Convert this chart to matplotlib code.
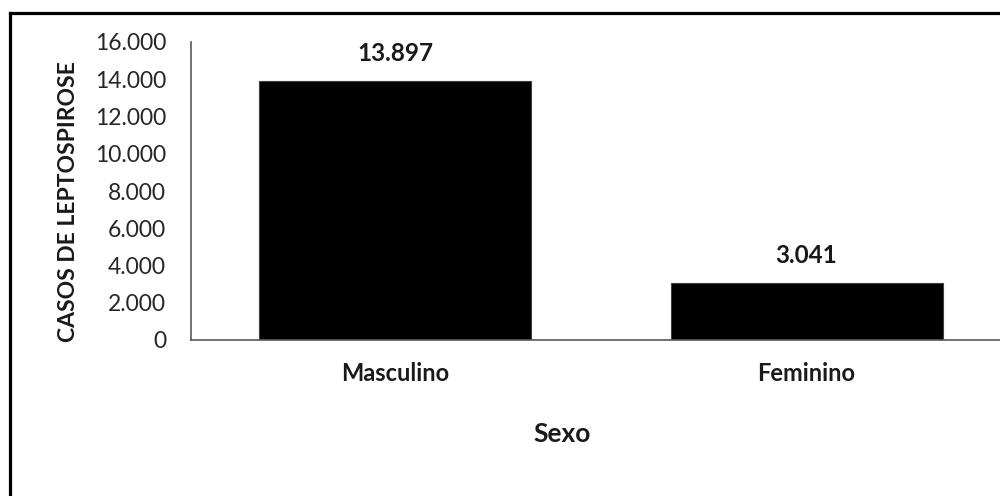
import matplotlib
matplotlib.use("Agg")
import matplotlib.pyplot as plt
from matplotlib.lines import Line2D

# Leptospirosis cases by sex
categories = ["Masculino", "Feminino"]
cases = [13897, 3041]
y_ticks = [0, 2000, 4000, 6000, 8000, 10000, 12000, 14000, 16000]


def fmt_thousands(v):
    return f"{v:,.0f}".replace(",", ".")


plt.rcParams["font.family"] = ["Lato", "DejaVu Sans"]

W, H = 1000, 496
fig = plt.figure(figsize=(W / 100, H / 100), dpi=100)
fig.patch.set_facecolor("white")

# plot area in pixel terms
left_px, right_px = 191, 1000
top_px, bottom_px = 42, 340
ax = fig.add_axes([left_px / W, 1 - bottom_px / H,
                   (right_px - left_px) / W, (bottom_px - top_px) / H])

x = list(range(len(categories)))
bars = ax.bar(x, cases, width=0.661, color="black", edgecolor="#404040", linewidth=0.8)

ax.set_xlim(-0.4957, 1.470)
ax.set_ylim(0, 16000)
ax.set_yticks(y_ticks)
ax.set_yticklabels([fmt_thousands(v) for v in y_ticks], fontsize=16.5, color="#262626")
ax.set_xticks(x)
ax.set_xticklabels(categories, fontsize=17, fontweight="bold", color="#1a1a1a")
ax.tick_params(axis="y", length=0, pad=18)
ax.tick_params(axis="x", length=0, pad=16)

for side in ("top", "right"):
    ax.spines[side].set_visible(False)
for side in ("left", "bottom"):
    ax.spines[side].set_color("#595959")
    ax.spines[side].set_linewidth(1.2)

ax.bar_label(bars, labels=[fmt_thousands(v) for v in cases], padding=12,
             fontsize=17.5, fontweight="bold", color="#1a1a1a")

ax.set_xlabel("Sexo", fontsize=19, fontweight="bold", color="#1a1a1a")
ax.xaxis.set_label_coords((562 - left_px) / (right_px - left_px),
                          (bottom_px - 434) / (bottom_px - top_px))
ax.xaxis.label.set_va("center")

ax.set_ylabel("CASOS DE LEPTOSPIROSE", fontsize=16.5, fontweight="bold", color="#1a1a1a")
ax.yaxis.set_label_coords((69 - left_px) / (right_px - left_px),
                          (bottom_px - 202) / (bottom_px - top_px))
ax.yaxis.label.set_va("center")

# outer chart border (left and top edges visible)
fx, fy = 10 / W, 1 - 13 / H
fig.add_artist(Line2D([fx, fx], [fy, -0.05], transform=fig.transFigure,
                      color="black", linewidth=2.3))
fig.add_artist(Line2D([fx, 1.05], [fy, fy], transform=fig.transFigure,
                      color="black", linewidth=2.3))

fig.savefig("out.png", dpi=100, facecolor="white")
